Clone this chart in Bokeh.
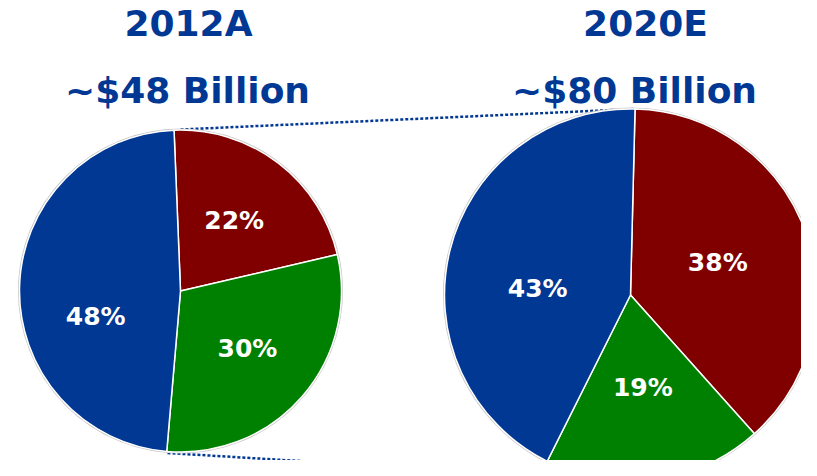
import numpy as np
from bokeh.plotting import figure
from bokeh.models import Range1d, ColumnDataSource
from bokeh.core.properties import value
from bokeh.embed import file_html
from bokeh.resources import INLINE

# ---- data ----
segments = ["Red segment", "Green segment", "Blue segment"]
share_2012 = [22, 30, 48]
share_2020 = [38, 19, 43]
years = ["2012A", "2020E"]
totals = ["~$48 Billion", "~$80 Billion"]

# ---- style / layout ----
seg_colors = ["#800000", "#008000", "#003894"]
title_color = "#003894"
FONT = value("DejaVu Sans")
W, H = 801, 460
# image pixel -> data: x = px, y = 476 - py
pies = [
    dict(values=share_2012, cx=180, cy=476 - 290.5, r=161, start=92.3,
         label_r=0.55, nudge=[0, 0, 18.0], tx_year=188, tx_total=187),
    dict(values=share_2020, cx=630, cy=476 - 294.5, r=186, start=88.6,
         label_r=0.50, nudge=[0, 0, 10.0], tx_year=645, tx_total=634),
]
year_y = 476 - 23
total_y = 476 - 90

p = figure(width=W, height=H, output_backend="svg", toolbar_location=None,
           x_range=Range1d(0, W), y_range=Range1d(476 - H, 476),
           min_border=0, outline_line_color=None, background_fill_color="white",
           border_fill_color="white")
p.axis.visible = False
p.grid.visible = False

# dotted connector lines (top-to-top and bottom-to-bottom)
a, b = pies
p.line([a["cx"], b["cx"] + 4], [a["cy"] + a["r"] + 0.5, b["cy"] + b["r"]],
       line_color=title_color, line_width=2.5, line_dash="3 2")
p.line([a["cx"] - 13, b["cx"]], [a["cy"] - a["r"] - 1, b["cy"] - b["r"]],
       line_color=title_color, line_width=2.5, line_dash="3 2")

for i, pie in enumerate(pies):
    vals = np.array(pie["values"], dtype=float)
    frac = vals / vals.sum()
    cum = np.concatenate([[0], np.cumsum(frac)])
    start = np.radians(pie["start"] - cum[1:] * 360)
    end = np.radians(pie["start"] - cum[:-1] * 360)
    mid = np.radians(pie["start"] - (cum[:-1] + cum[1:]) / 2 * 360 + np.array(pie["nudge"]))
    src = ColumnDataSource(dict(start=start, end=end, color=seg_colors,
                                seg=segments, val=vals))
    # faint grey rim
    p.circle(x=[pie["cx"]], y=[pie["cy"]], radius=pie["r"] + 0.8,
             fill_color=None, line_color="#c8c8c8", line_width=1.5)
    p.wedge(x=pie["cx"], y=pie["cy"], radius=pie["r"], start_angle="start",
            end_angle="end", fill_color="color", line_color="white",
            line_width=1.5, source=src)
    lx = pie["cx"] + pie["label_r"] * pie["r"] * np.cos(mid)
    ly = pie["cy"] + pie["label_r"] * pie["r"] * np.sin(mid)
    labels = [f"{int(v)}%" for v in vals]
    p.text(x=lx, y=ly, text=labels, text_color="white", text_font=FONT,
           text_font_style="bold", text_font_size="25px",
           text_align="center", text_baseline="middle")
    p.text(x=[pie["tx_year"]], y=[year_y], text=[years[i]], text_color=title_color,
           text_font=FONT, text_font_style="bold", text_font_size="36px",
           text_align="center", text_baseline="middle")
    p.text(x=[pie["tx_total"]], y=[total_y], text=[totals[i]], text_color=title_color,
           text_font=FONT, text_font_style="bold", text_font_size="36px",
           text_align="center", text_baseline="middle")

open("out.html", "w").write(file_html(p, INLINE))
